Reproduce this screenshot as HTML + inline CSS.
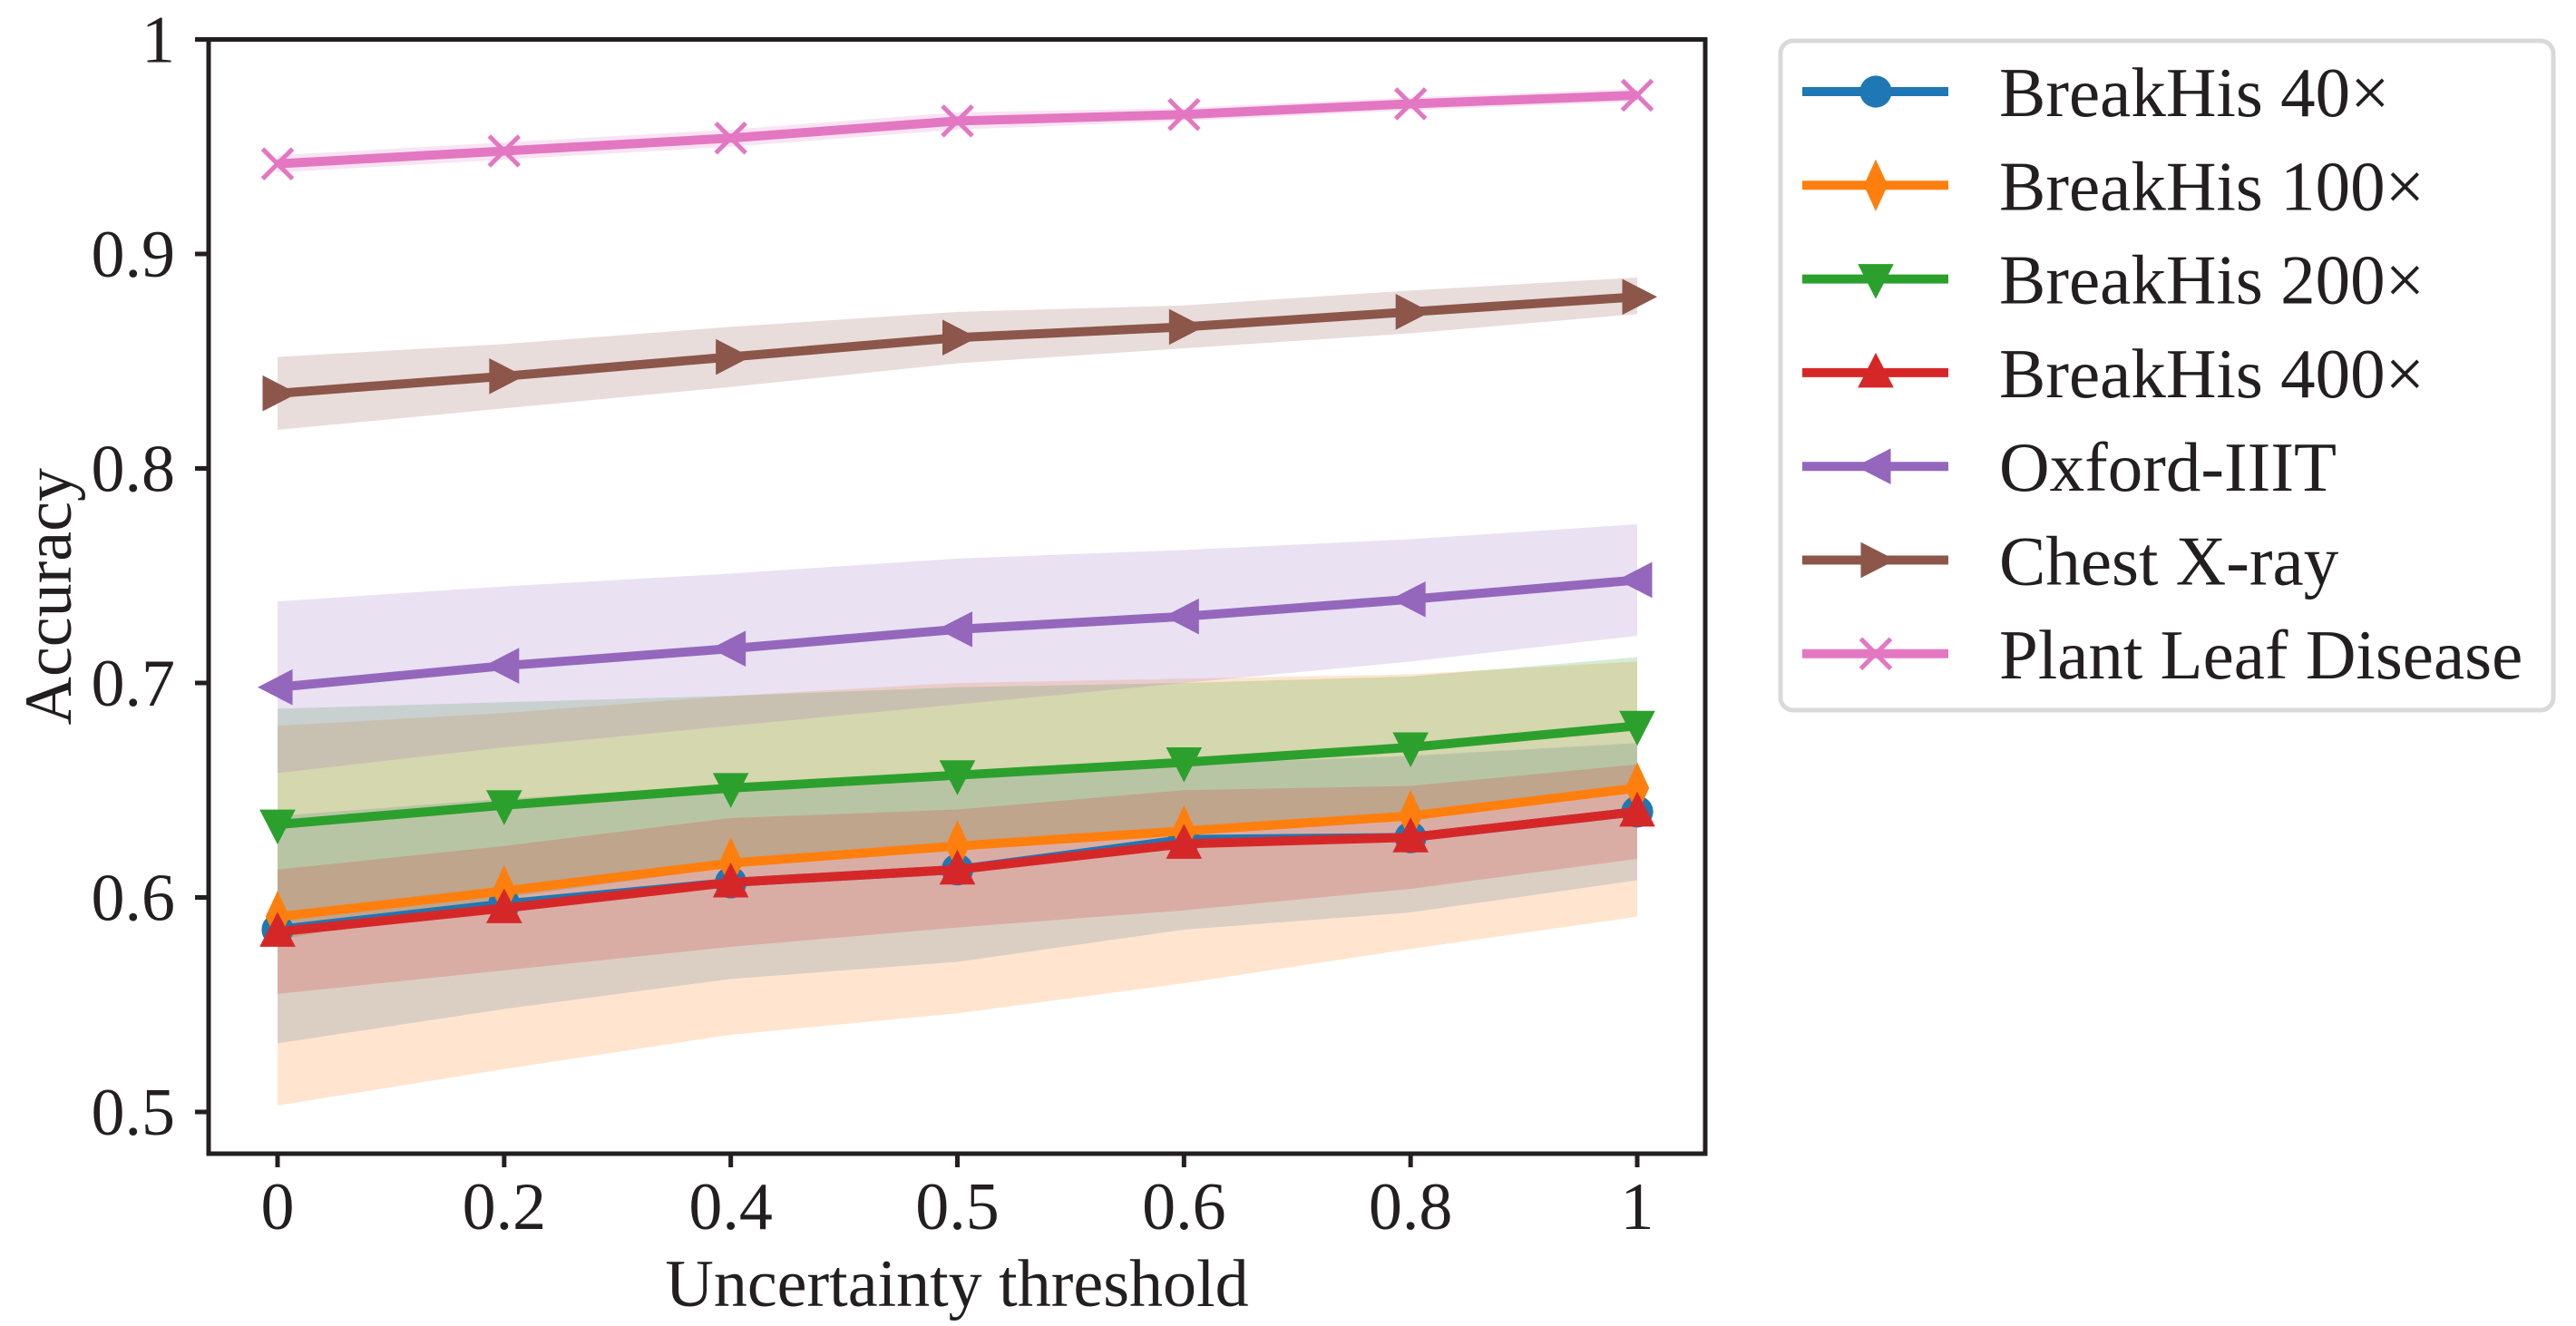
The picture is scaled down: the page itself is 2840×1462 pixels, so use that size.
<!DOCTYPE html>
<html><head><meta charset="utf-8"><style>
html,body{margin:0;padding:0;background:#fff;}
svg{display:block;font-family:"Liberation Serif",serif;}
</style></head><body>
<svg id="chart" width="2840" height="1462" viewBox="0 0 2840 1462"></svg>
<script>
const categories = ["0","0.2","0.4","0.5","0.6","0.8","1"];
const yTicks = [0.5,0.6,0.7,0.8,0.9,1];
const yTickLabels = ["0.5","0.6","0.7","0.8","0.9","1"];
const seriesNames = ["BreakHis 40×","BreakHis 100×","BreakHis 200×","BreakHis 400×","Oxford-IIIT","Chest X-ray","Plant Leaf Disease"];
const blueMean   = [0.585,0.597,0.607,0.613,0.627,0.628,0.640];
const blueLow    = [0.532,0.548,0.562,0.570,0.585,0.593,0.608];
const blueHigh   = [0.638,0.646,0.652,0.656,0.662,0.666,0.672];
const orangeMean = [0.591,0.603,0.616,0.624,0.631,0.638,0.651];
const orangeLow  = [0.503,0.520,0.536,0.546,0.560,0.576,0.591];
const orangeHigh = [0.680,0.686,0.694,0.700,0.702,0.704,0.710];
const greenMean  = [0.634,0.643,0.651,0.657,0.663,0.670,0.680];
const greenLow   = [0.580,0.600,0.614,0.622,0.630,0.640,0.650];
const greenHigh  = [0.688,0.691,0.694,0.698,0.700,0.703,0.712];
const redMean    = [0.584,0.595,0.607,0.613,0.625,0.628,0.640];
const redLow     = [0.555,0.566,0.577,0.586,0.594,0.604,0.618];
const redHigh    = [0.613,0.624,0.637,0.641,0.650,0.652,0.662];
const purpleMean = [0.698,0.708,0.716,0.725,0.731,0.739,0.748];
const purpleLow  = [0.658,0.670,0.680,0.690,0.700,0.710,0.722];
const purpleHigh = [0.738,0.745,0.751,0.758,0.762,0.767,0.774];
const brownMean  = [0.835,0.843,0.852,0.861,0.866,0.873,0.880];
const brownLow   = [0.818,0.828,0.838,0.849,0.856,0.863,0.872];
const brownHigh  = [0.852,0.858,0.866,0.873,0.876,0.883,0.889];
const pinkMean   = [0.942,0.948,0.954,0.962,0.965,0.970,0.974];
const pinkLow    = [0.938,0.944,0.950,0.958,0.962,0.967,0.971];
const pinkHigh   = [0.946,0.952,0.958,0.966,0.968,0.973,0.977];

const NS="http://www.w3.org/2000/svg";
const svg=document.getElementById('chart');
const L=230,R=1880,T=43.5,B=1272;
const X0=306,X1=1805;
function xs(i){return X0+(X1-X0)*i/(categories.length-1);}
function ys(v){return T+(1-v)*2365;}
function mk(tag,attrs,parent){const e=document.createElementNS(NS,tag);for(const k in attrs)e.setAttribute(k,attrs[k]);(parent||svg).appendChild(e);return e;}

const series=[
 {mean:blueMean,low:blueLow,high:blueHigh,c:"#1f77b4",m:"circle",n:"breakhis-40x"},
 {mean:orangeMean,low:orangeLow,high:orangeHigh,c:"#ff7f0e",m:"diamond",n:"breakhis-100x"},
 {mean:greenMean,low:greenLow,high:greenHigh,c:"#2ca02c",m:"tridown",n:"breakhis-200x"},
 {mean:redMean,low:redLow,high:redHigh,c:"#d62728",m:"triup",n:"breakhis-400x"},
 {mean:purpleMean,low:purpleLow,high:purpleHigh,c:"#9467bd",m:"trileft",n:"oxford-iiit"},
 {mean:brownMean,low:brownLow,high:brownHigh,c:"#8c564b",m:"triright",n:"chest-x-ray"},
 {mean:pinkMean,low:pinkLow,high:pinkHigh,c:"#e377c2",m:"x",n:"plant-leaf-disease"}
];

function marker(g,type,cx,cy,c,s){
 let e;
 if(type==="circle") e=mk('circle',{cx:cx,cy:cy,r:s*0.8,fill:c},g);
 else if(type==="diamond") e=mk('polygon',{points:`${cx},${cy-s*1.3} ${cx+s*0.6},${cy} ${cx},${cy+s*1.3} ${cx-s*0.6},${cy}`,fill:c},g);
 else if(type==="tridown") e=mk('polygon',{points:`${cx-s*0.9},${cy-s*0.75} ${cx+s*0.9},${cy-s*0.75} ${cx},${cy+s*1.0}`,fill:c},g);
 else if(type==="triup") e=mk('polygon',{points:`${cx-s*0.9},${cy+s*0.75} ${cx+s*0.9},${cy+s*0.75} ${cx},${cy-s*1.0}`,fill:c},g);
 else if(type==="trileft") e=mk('polygon',{points:`${cx+s*0.75},${cy-s*0.9} ${cx+s*0.75},${cy+s*0.9} ${cx-s*1.0},${cy}`,fill:c},g);
 else if(type==="triright") e=mk('polygon',{points:`${cx-s*0.75},${cy-s*0.9} ${cx-s*0.75},${cy+s*0.9} ${cx+s*1.0},${cy}`,fill:c},g);
 else { e=mk('path',{d:`M${cx-s*0.75},${cy-s*0.75}L${cx+s*0.75},${cy+s*0.75}M${cx-s*0.75},${cy+s*0.75}L${cx+s*0.75},${cy-s*0.75}`,stroke:c,'stroke-width':5,fill:'none'},g); }
 return e;
}

series.forEach(s=>{
 let pts=[];
 s.high.forEach((v,i)=>pts.push(xs(i)+","+ys(v)));
 for(let i=s.low.length-1;i>=0;i--)pts.push(xs(i)+","+ys(s.low[i]));
 const b=mk('polygon',{points:pts.join(' '),fill:s.c,'fill-opacity':0.2});
 
 
});
series.forEach(s=>{
 const g=mk('g',{});
 
 
 const d=s.mean.map((v,i)=>(i?'L':'M')+xs(i)+','+ys(v)).join('');
 mk('path',{d:d,stroke:s.c,'stroke-width':10,fill:'none','stroke-linejoin':'round'},g);
 s.mean.forEach((v,i)=>{
  const m=marker(g,s.m,xs(i),ys(v),s.c,22);
  
  
 });
});

const frame=mk('rect',{x:L,y:T,width:R-L,height:B-T,fill:'none',stroke:'#231f20','stroke-width':5});



yTicks.forEach((v,i)=>{
 mk('line',{x1:L-15,x2:L,y1:ys(v),y2:ys(v),stroke:'#231f20','stroke-width':5});
 const t=mk('text',{x:L-37,y:ys(v)+25,'text-anchor':'end','font-size':74,fill:'#231f20'});
 t.textContent=yTickLabels[i];
 
 
});
categories.forEach((c,i)=>{
 mk('line',{x1:xs(i),x2:xs(i),y1:B,y2:B+15,stroke:'#231f20','stroke-width':5});
 const t=mk('text',{x:xs(i),y:B+83,'text-anchor':'middle','font-size':74,fill:'#231f20'});
 t.textContent=c;
 
 
});
const xt=mk('text',{x:(L+R)/2,y:1440,'text-anchor':'middle','font-size':74,fill:'#231f20'});
xt.textContent="Uncertainty threshold";


const yt=mk('text',{x:0,y:0,'text-anchor':'middle','font-size':74,fill:'#231f20',transform:`translate(78,${(T+B)/2}) rotate(-90)`});
yt.textContent="Accuracy";



const lg=mk('g',{});


mk('rect',{x:1963,y:45,width:852,height:738,rx:14,fill:'#fff',stroke:'#d9d9d9','stroke-width':5},lg);
series.forEach((s,i)=>{
 const cy=101+i*103.3;
 const e=mk('g',{},lg);
 
 
 mk('line',{x1:1987,x2:2148,y1:cy,y2:cy,stroke:s.c,'stroke-width':10},e);
 marker(e,s.m,2068,cy,s.c,22);
 const t=mk('text',{x:2204,y:cy+27,'font-size':77,fill:'#231f20'},e);
 t.textContent=seriesNames[i];
});
</script>
</body></html>
